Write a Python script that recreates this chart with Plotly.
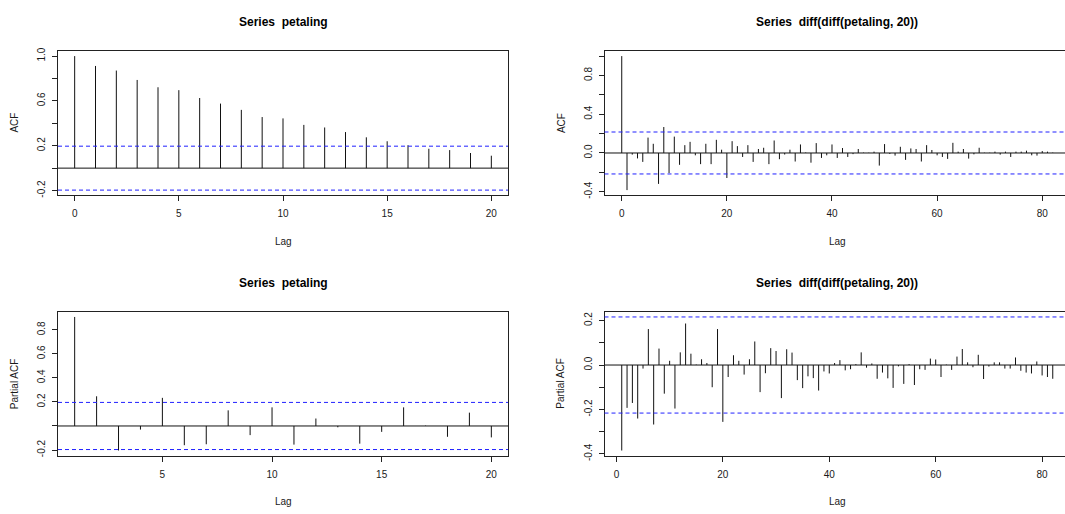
import math
import plotly.graph_objects as go

# ---- sample sizes (for the 95% white-noise bounds) ----
n_petaling = 100
n_diff = 82

# ---- ACF of petaling, lags 0..20 ----
lags_acf_raw = list(range(0, 21))
acf_raw = [1.000, 0.912, 0.871, 0.787, 0.722, 0.696, 0.626, 0.576, 0.520, 0.456,
           0.444, 0.386, 0.363, 0.322, 0.275, 0.240, 0.205, 0.173, 0.161, 0.135, 0.111]

# ---- PACF of petaling, lags 1..20 ----
lags_pacf_raw = list(range(1, 21))
pacf_raw = [0.907, 0.247, -0.204, -0.030, 0.234, -0.160, -0.152, 0.130, -0.076, 0.155,
            -0.155, 0.062, -0.011, -0.147, -0.049, 0.155, 0.003, -0.090, 0.111, -0.095]

# ---- ACF of diff(diff(petaling, 20)), lags 0..82 ----
lags_acf_diff = list(range(0, 83))
acf_diff = [1.000, -0.383, -0.017, -0.056, -0.092, 0.159, 0.095, -0.319, 0.268, -0.207,
            0.169, -0.122, 0.081, 0.115, -0.024, -0.115, 0.095, -0.115, 0.136, 0.034,
            -0.258, 0.122, 0.071, -0.041, 0.081, -0.092, 0.041, 0.054, -0.115, 0.129,
            -0.064, -0.016, 0.034, -0.088, 0.088, 0.005, -0.100, 0.102, -0.051, -0.024,
            0.088, -0.051, 0.051, -0.041, -0.012, 0.041, 0.004, 0.003, 0.014, -0.130,
            0.092, -0.010, -0.027, 0.064, -0.071, 0.047, 0.041, -0.088, 0.081, 0.031,
            -0.024, -0.041, -0.061, 0.105, 0.014, 0.041, -0.058, -0.014, 0.054, 0.003,
            0.003, 0.014, -0.017, 0.014, -0.041, 0.014, 0.014, 0.024, -0.024, -0.027,
            0.020, 0.014, 0.004]

# ---- PACF of diff(diff(petaling, 20)), lags 1..82 ----
lags_pacf_diff = list(range(1, 83))
pacf_diff = [-0.385, -0.193, -0.171, -0.241, -0.016, 0.162, -0.268, 0.074, -0.129, 0.019,
             -0.196, 0.057, 0.187, 0.051, 0.002, 0.026, 0.009, -0.100, 0.162, -0.256,
             -0.054, 0.044, 0.019, -0.043, 0.026, 0.106, -0.122, -0.037, 0.076, 0.063,
             -0.149, 0.071, 0.056, -0.068, -0.104, -0.051, -0.059, -0.115, -0.029, -0.038,
             0.009, 0.022, -0.024, -0.019, 0.004, 0.057, -0.012, 0.007, -0.062, -0.034,
             -0.060, -0.103, -0.006, -0.085, 0.004, -0.090, -0.019, -0.022, 0.029, 0.025,
             -0.054, 0.002, -0.022, 0.038, 0.072, 0.012, -0.010, 0.046, -0.063, -0.007,
             0.012, 0.012, -0.016, -0.016, 0.034, -0.026, -0.034, -0.038, 0.016, -0.047,
             -0.054, -0.062]

W, H = 1065, 514
FONT = "Liberation Sans, Arial, Helvetica, sans-serif"
TXT = "#1a1a1a"
CI_BLUE = "#2020ff"


def fx(x):
    return x / W


def fy(y):
    return 1 - y / H


def r_range(lo, hi):
    pad = (hi - lo) * 0.04
    return lo - pad, hi + pad


fig = go.Figure()
annotations = []
shapes = []

panels = [
    dict(lags=lags_acf_raw, vals=acf_raw, n=n_petaling, ylab="ACF",
         title="Series\u00a0\u00a0petaling",
         box=(58, 508, 48.5, 195.5), full_right=508,
         yt=[-0.2, 0.0, 0.2, 0.4, 0.6, 0.8, 1.0], ylab_show=[-0.2, 0.2, 0.6, 1.0],
         xt=[0, 5, 10, 15, 20], right_line=True),
    dict(lags=lags_acf_diff, vals=acf_diff, n=n_diff, ylab="ACF",
         title="Series\u00a0\u00a0diff(diff(petaling, 20))",
         box=(604.5, 1065, 48.5, 195.5), full_right=1070,
         yt=[-0.4, -0.2, 0.0, 0.2, 0.4, 0.6, 0.8, 1.0], ylab_show=[-0.4, 0.0, 0.4, 0.8],
         xt=[0, 20, 40, 60, 80], right_line=False),
    dict(lags=lags_pacf_raw, vals=pacf_raw, n=n_petaling, ylab="Partial ACF",
         title="Series\u00a0\u00a0petaling",
         box=(58, 508, 313.5, 460), full_right=508,
         yt=[-0.2, 0.0, 0.2, 0.4, 0.6, 0.8], ylab_show=[-0.2, 0.2, 0.4, 0.6, 0.8],
         xt=[5, 10, 15, 20], right_line=True),
    dict(lags=lags_pacf_diff, vals=pacf_diff, n=n_diff, ylab="Partial ACF",
         title="Series\u00a0\u00a0diff(diff(petaling, 20))",
         box=(604.5, 1065, 313.5, 460), full_right=1070,
         yt=[-0.4, -0.3, -0.2, -0.1, 0.0, 0.1, 0.2], ylab_show=[-0.4, -0.2, 0.0, 0.2],
         xt=[0, 20, 40, 60, 80], right_line=False),
]

layout_axes = {}
for i, p in enumerate(panels, start=1):
    xa = "x" if i == 1 else f"x{i}"
    ya = "y" if i == 1 else f"y{i}"
    xkey = "xaxis" if i == 1 else f"xaxis{i}"
    ykey = "yaxis" if i == 1 else f"yaxis{i}"

    clim = 1.96 / math.sqrt(p["n"])
    lags, vals = p["lags"], p["vals"]
    x_lo, x_hi = r_range(min(lags), max(lags))
    y_lo, y_hi = r_range(min(min(vals), -clim), max(max(vals), clim))

    x0, x1, y0, y1 = p["box"]
    full_w = p["full_right"] - x0
    vis_hi = x_lo + (x_hi - x_lo) * (x1 - x0) / full_w

    # zero line and dashed blue confidence bounds across the whole panel
    shapes.append(dict(type="line", xref=f"{xa} domain", yref=ya, x0=0, x1=1, y0=0, y1=0,
                       line=dict(color="#111111", width=1), layer="below"))
    for c in (clim, -clim):
        shapes.append(dict(type="line", xref=f"{xa} domain", yref=ya, x0=0, x1=1, y0=c, y1=c,
                           line=dict(color=CI_BLUE, width=1, dash="4px,3px"), layer="above"))

    # vertical spikes
    bx, by = [], []
    for lg, v in zip(lags, vals):
        bx += [lg, lg, None]
        by += [0, v, None]
    fig.add_trace(go.Scatter(x=bx, y=by, mode="lines", xaxis=xa, yaxis=ya,
                             line=dict(color="#111111", width=1),
                             hoverinfo="skip", showlegend=False))

    ytext = [("%.1f" % v) if v in p["ylab_show"] else "" for v in p["yt"]]
    layout_axes[xkey] = dict(
        domain=[fx(x0), fx(x1)], range=[x_lo, vis_hi], anchor=ya,
        showgrid=False, zeroline=False, showline=True, mirror=True,
        linecolor="#222222", linewidth=1,
        ticks="outside", ticklen=5, tickcolor="#222222", tickwidth=1,
        tickvals=p["xt"], ticktext=[str(v) for v in p["xt"]],
        tickfont=dict(family=FONT, size=10, color=TXT), ticklabelstandoff=4,
    )
    layout_axes[ykey] = dict(
        domain=[fy(y1), fy(y0)], range=[y_lo, y_hi], anchor=xa,
        showgrid=False, zeroline=False, showline=True, mirror=p["right_line"],
        linecolor="#222222", linewidth=1,
        ticks="outside", ticklen=5, tickcolor="#222222", tickwidth=1,
        tickvals=p["yt"], ticktext=ytext, tickangle=-90,
        tickfont=dict(family=FONT, size=10, color=TXT), ticklabelstandoff=3,
    )

    cx = (x0 + p["full_right"]) / 2
    annotations.append(dict(text="<b>%s</b>" % p["title"], x=fx(cx), y=fy(y0 - 29.5),
                            xref="paper", yref="paper", showarrow=False,
                            xanchor="center", yanchor="middle",
                            font=dict(family=FONT, size=12, color="#000000")))
    annotations.append(dict(text="Lag", x=fx(cx), y=fy(y1 + 46.5),
                            xref="paper", yref="paper", showarrow=False,
                            xanchor="center", yanchor="middle",
                            font=dict(family=FONT, size=10, color=TXT)))
    annotations.append(dict(text=p["ylab"], x=fx(x0 - 43.5), y=fy((y0 + y1) / 2),
                            xref="paper", yref="paper", showarrow=False, textangle=-90,
                            xanchor="center", yanchor="middle",
                            font=dict(family=FONT, size=10, color=TXT)))

fig.update_layout(
    width=W, height=H, margin=dict(l=0, r=0, t=0, b=0),
    paper_bgcolor="white", plot_bgcolor="white",
    annotations=annotations, shapes=shapes, showlegend=False, **layout_axes,
)

fig.write_html("out.html")
